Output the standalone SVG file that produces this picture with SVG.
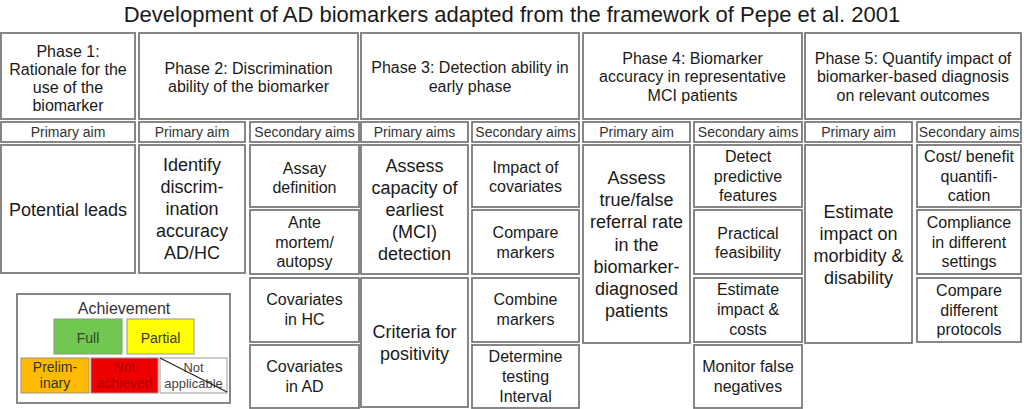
<svg xmlns="http://www.w3.org/2000/svg" width="1024" height="409" viewBox="0 0 1024 409">
<style>
.b{fill:#fff;stroke:#7a7a7a;stroke-width:1.8}
text{font-family:"Liberation Sans",Arial,sans-serif;fill:#1a1a1a;text-anchor:middle}
.t{font-size:22px}
.h{font-size:16px}
.a{font-size:14px;fill:#333}
.p{font-size:18px}
.s{font-size:16px}
.l{font-size:14px;fill:#333}
</style>
<rect width="1024" height="409" fill="#fff"/>
<text class="t" x="512" y="22">Development of AD biomarkers adapted from the framework of Pepe et al. 2001</text>

<g id="phase1">
<rect class="b" x="1" y="33" width="134" height="86"/>
<text class="h" x="68" y="57">Phase 1:</text>
<text class="h" x="68" y="75">Rationale for the</text>
<text class="h" x="68" y="93">use of the</text>
<text class="h" x="68" y="111">biomarker</text>
<rect class="b" x="1" y="122" width="134" height="20"/>
<text class="a" x="68" y="136.5">Primary aim</text>
<rect class="b" x="1" y="145" width="134" height="128"/>
<text class="p" x="68" y="216">Potential leads</text>
</g>

<g id="phase2">
<rect class="b" x="139" y="33" width="219" height="86"/>
<text class="h" x="248.5" y="73.5">Phase 2: Discrimination</text>
<text class="h" x="248.5" y="91.5">ability of the biomarker</text>
<rect class="b" x="139" y="122" width="106" height="20"/>
<text class="a" x="192" y="136.5">Primary aim</text>
<rect class="b" x="250" y="122" width="109" height="20"/>
<text class="a" x="304.5" y="136.5">Secondary aims</text>
<rect class="b" x="139" y="145" width="106" height="128"/>
<text class="p" x="192" y="171">Identify</text>
<text class="p" x="192" y="193">discrim-</text>
<text class="p" x="192" y="215">ination</text>
<text class="p" x="192" y="237">accuracy</text>
<text class="p" x="192" y="259">AD/HC</text>
<rect class="b" x="250" y="145" width="109" height="62"/>
<text class="s" x="304.5" y="174">Assay</text>
<text class="s" x="304.5" y="193">definition</text>
<rect class="b" x="250" y="210" width="109" height="64"/>
<text class="s" x="304.5" y="228">Ante</text>
<text class="s" x="304.5" y="247.5">mortem/</text>
<text class="s" x="304.5" y="267">autopsy</text>
<rect class="b" x="250" y="278" width="109" height="64"/>
<text class="s" x="304.5" y="305">Covariates</text>
<text class="s" x="304.5" y="324.5">in HC</text>
<rect class="b" x="250" y="345" width="109" height="63"/>
<text class="s" x="304.5" y="372">Covariates</text>
<text class="s" x="304.5" y="391.5">in AD</text>
</g>

<g id="phase3">
<rect class="b" x="361" y="33" width="218" height="86"/>
<text class="h" x="470" y="73">Phase 3: Detection ability in</text>
<text class="h" x="470" y="91.5">early phase</text>
<rect class="b" x="361" y="122" width="107" height="20"/>
<text class="a" x="414.5" y="136.5">Primary aims</text>
<rect class="b" x="472" y="122" width="107" height="20"/>
<text class="a" x="525.5" y="136.5">Secondary aims</text>
<rect class="b" x="361" y="145" width="107" height="129"/>
<text class="p" x="414.5" y="171.5">Assess</text>
<text class="p" x="414.5" y="193.5">capacity of</text>
<text class="p" x="414.5" y="215.5">earliest</text>
<text class="p" x="414.5" y="237.5">(MCI)</text>
<text class="p" x="414.5" y="259.5">detection</text>
<rect class="b" x="361" y="278" width="107" height="129"/>
<text class="p" x="414.5" y="338">Criteria for</text>
<text class="p" x="414.5" y="360">positivity</text>
<rect class="b" x="472" y="145" width="107" height="62"/>
<text class="s" x="525.5" y="172.5">Impact of</text>
<text class="s" x="525.5" y="192">covariates</text>
<rect class="b" x="472" y="210" width="107" height="64"/>
<text class="s" x="525.5" y="238">Compare</text>
<text class="s" x="525.5" y="257.5">markers</text>
<rect class="b" x="472" y="278" width="107" height="64"/>
<text class="s" x="525.5" y="305">Combine</text>
<text class="s" x="525.5" y="324.5">markers</text>
<rect class="b" x="472" y="345" width="107" height="63"/>
<text class="s" x="525.5" y="362">Determine</text>
<text class="s" x="525.5" y="382">testing</text>
<text class="s" x="525.5" y="402">Interval</text>
</g>

<g id="phase4">
<rect class="b" x="583" y="33" width="219" height="86"/>
<text class="h" x="692.5" y="63.5">Phase 4: Biomarker</text>
<text class="h" x="692.5" y="82">accuracy in representative</text>
<text class="h" x="692.5" y="100.5">MCI patients</text>
<rect class="b" x="583" y="122" width="107" height="20"/>
<text class="a" x="636.5" y="136.5">Primary aim</text>
<rect class="b" x="694" y="122" width="108" height="20"/>
<text class="a" x="748" y="136.5">Secondary aims</text>
<rect class="b" x="583" y="145" width="107" height="198"/>
<text class="p" x="636.5" y="184">Assess</text>
<text class="p" x="636.5" y="206">true/false</text>
<text class="p" x="636.5" y="228">referral rate</text>
<text class="p" x="636.5" y="250.5">in the</text>
<text class="p" x="636.5" y="273">biomarker-</text>
<text class="p" x="636.5" y="295">diagnosed</text>
<text class="p" x="636.5" y="317">patients</text>
<rect class="b" x="694" y="145" width="108" height="62"/>
<text class="s" x="748" y="162">Detect</text>
<text class="s" x="748" y="181.5">predictive</text>
<text class="s" x="748" y="201">features</text>
<rect class="b" x="694" y="210" width="108" height="64"/>
<text class="s" x="748" y="238.5">Practical</text>
<text class="s" x="748" y="258">feasibility</text>
<rect class="b" x="694" y="278" width="108" height="64"/>
<text class="s" x="748" y="295">Estimate</text>
<text class="s" x="748" y="315">impact &amp;</text>
<text class="s" x="748" y="334.5">costs</text>
<rect class="b" x="694" y="345" width="108" height="63"/>
<text class="s" x="748" y="372">Monitor false</text>
<text class="s" x="748" y="391.5">negatives</text>
</g>

<g id="phase5">
<rect class="b" x="805" y="33" width="216" height="86"/>
<text class="h" x="913" y="63.5">Phase 5: Quantify impact of</text>
<text class="h" x="913" y="82">biomarker-based diagnosis</text>
<text class="h" x="913" y="100.5">on relevant outcomes</text>
<rect class="b" x="805" y="122" width="107" height="20"/>
<text class="a" x="858.5" y="136.5">Primary aim</text>
<rect class="b" x="917" y="122" width="104" height="20"/>
<text class="a" x="969" y="136.5">Secondary aims</text>
<rect class="b" x="805" y="145" width="107" height="198"/>
<text class="p" x="858.5" y="218">Estimate</text>
<text class="p" x="858.5" y="240">impact on</text>
<text class="p" x="858.5" y="262">morbidity &amp;</text>
<text class="p" x="858.5" y="284">disability</text>
<rect class="b" x="917" y="145" width="104" height="62"/>
<text class="s" x="969" y="162">Cost/ benefit</text>
<text class="s" x="969" y="181.5">quantifi-</text>
<text class="s" x="969" y="201">cation</text>
<rect class="b" x="917" y="210" width="104" height="64"/>
<text class="s" x="969" y="228">Compliance</text>
<text class="s" x="969" y="247.5">in different</text>
<text class="s" x="969" y="267">settings</text>
<rect class="b" x="917" y="278" width="104" height="64"/>
<text class="s" x="969" y="296">Compare</text>
<text class="s" x="969" y="315.5">different</text>
<text class="s" x="969" y="335">protocols</text>
</g>

<g id="legend">
<rect class="b" x="17" y="294" width="213" height="109"/>
<text x="124" y="314" style="font-size:16px;fill:#333">Achievement</text>
<rect x="54" y="319" width="68" height="35" fill="#72c652" stroke="#8a9a80" stroke-width="1"/>
<text class="l" x="88" y="342.5" style="fill:#2f4a25">Full</text>
<rect x="127" y="319" width="67" height="35" fill="#ffff00" stroke="#9a9a80" stroke-width="1"/>
<text class="l" x="160.5" y="342.5" style="fill:#3a3a10">Partial</text>
<rect x="21" y="358" width="68" height="35" fill="#ffbb00" stroke="#9a9080" stroke-width="1"/>
<text class="l" x="55" y="372">Prelim-</text>
<text class="l" x="55" y="388">inary</text>
<rect x="91" y="358" width="67" height="35" fill="#ee0000" stroke="#aa8080" stroke-width="1"/>
<text class="l" x="124.5" y="372" style="fill:#b00000">Not</text>
<text class="l" x="124.5" y="388" style="fill:#b00000">achieved</text>
<rect x="160" y="358" width="67" height="35" fill="#fff" stroke="#999" stroke-width="1"/>
<text x="193.5" y="372" style="font-size:13px;fill:#444">Not</text>
<text x="193.5" y="388" style="font-size:13px;fill:#444">applicable</text>
<line x1="160" y1="358" x2="227" y2="392" stroke="#222" stroke-width="1.2"/>
</g>
<g id="connectors"></g>
</svg>
